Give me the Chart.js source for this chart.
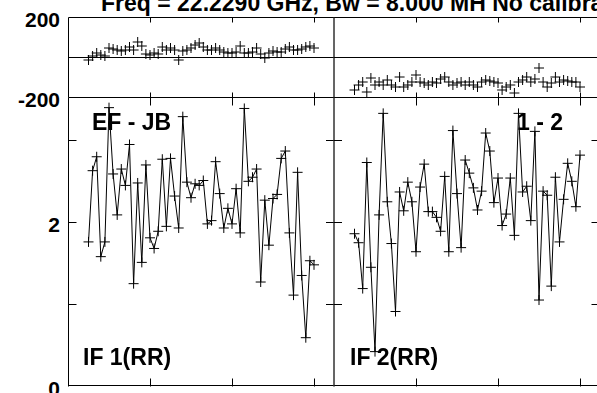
<!DOCTYPE html>
<html>
<head>
<meta charset="utf-8">
<script src="https://cdn.jsdelivr.net/npm/chart.js@4.4.0/dist/chart.umd.min.js"></script>
<style>
  html, body { margin: 0; padding: 0; background: #fff; }
  body {
    width: 597px; height: 393px; position: relative; overflow: hidden;
    font-family: "Liberation Sans", Arial, sans-serif; font-weight: bold; color: #000;
  }
  canvas { position: absolute; }
  .lbl { position: absolute; white-space: nowrap; line-height: 1; }
  .big { font-size: 23px; }
  .ax { font-size: 21px; left: 0; width: 60px; text-align: right; }
</style>
</head>
<body>

<div class="lbl big" style="left:101px; top:-8.5px;">Freq = 22.2290 GHz, Bw = 8.000 MH No calibration</div>
<div class="lbl ax" style="top:9px;">200</div>
<div class="lbl ax" style="top:89px;">-200</div>
<div class="lbl ax" style="top:214px;">2</div>
<div class="lbl ax" style="top:378px;">0</div>

<canvas id="phaseL"></canvas>
<canvas id="phaseR"></canvas>
<canvas id="ampL"></canvas>
<canvas id="ampR"></canvas>

<div class="lbl big" style="left:92px; top:110.5px;">EF - JB</div>
<div class="lbl big" style="left:517px; top:110.5px;">1 - 2</div>
<div class="lbl big" style="left:83px; top:345.5px;">IF 1(RR)</div>
<div class="lbl big" style="left:350px; top:345.5px;">IF 2(RR)</div>

<script>
// ---- data ----
const times = [
  0.25, 0.30, 0.35, 0.40, 0.45, 0.50, 0.55, 0.60, 0.65, 0.70,
  0.75, 0.80, 0.85, 0.90, 0.95, 1.00, 1.05, 1.10, 1.15, 1.20,
  1.25, 1.30, 1.35, 1.40, 1.45, 1.50, 1.55, 1.60, 1.65, 1.70,
  1.75, 1.80, 1.85, 1.90, 1.95, 2.00, 2.05, 2.10, 2.15, 2.20,
  2.25, 2.30, 2.35, 2.40, 2.45, 2.50, 2.55, 2.60, 2.65, 2.70,
  2.75, 2.80, 2.85, 2.90, 2.95, 3.00
];

const phaseIF1 = [
  -15, 5, 20, 10, 5, 45, 40, 35, 30, 35,
  50, 35, 75, 55, 15, 10, 20, 15, 50, 35,
  45, 35, -15, 30, 35, 45, 60, 70, 50, 35,
  35, 45, 35, 25, 20, 20, 25, 55, 20, 20,
  25, 45, 15, -5, 20, 30, 25, 25, 40, 50,
  35, 35, 40, 50, 55, 45
];

const phaseIF2 = [
  -165, -140, -125, -175, -105, -140, -125, -140, -115, -140,
  -150, -100, -150, -140, -125, -90, -125, -130, -140, -125,
  -130, -110, -100, -125, -140, -130, -125, -140, -125, -140,
  -150, -125, -115, -120, -125, -130, -165, -150, -140, -180,
  -125, -115, -100, -125, -110, -55, -125, -150, -130, -100,
  -125, -115, -120, -125, -125, -150
];

const ampIF1 = [
  1.76, 2.63, 2.80, 1.58, 1.76, 3.40, 2.59, 2.09, 2.65, 2.45,
  2.95, 1.25, 2.48, 1.51, 2.70, 1.81, 1.68, 1.89, 2.77, 1.95,
  2.78, 2.32, 1.93, 3.29, 2.49, 2.30, 2.47, 2.45, 2.51, 1.98,
  2.02, 2.74, 2.35, 1.93, 2.17, 1.98, 2.41, 1.87, 3.39, 2.50,
  2.55, 2.65, 1.27, 2.27, 1.72, 2.29, 2.34, 2.78, 2.87, 1.87,
  1.11, 2.61, 1.35, 0.59, 1.53, 1.48
];

const ampIF2 = [
  1.86, 1.75, 1.19, 2.73, 1.45, 0.42, 2.09, 3.33, 2.25, 1.74,
  0.91, 2.37, 2.14, 2.49, 2.25, 1.64, 2.43, 2.71, 2.13, 2.13,
  2.06, 1.89, 2.56, 1.64, 3.12, 2.35, 1.69, 2.76, 2.60, 2.42,
  2.15, 2.38, 3.09, 2.87, 2.24, 2.54, 1.96, 2.10, 2.54, 1.84,
  3.33, 2.37, 2.44, 2.02, 3.11, 1.05, 2.38, 2.33, 1.22, 2.55,
  1.76, 2.28, 2.72, 2.50, 2.19, 2.82
];

const xTicks = [1, 2, 3];
const ampTicks = [1, 2, 3];
const X_MAX = 266 / 82;
const PHASE_RANGE = [-200, 200];
const AMP_RANGE = [0, 3.53];

// ---- layout ----
const PAD = 6;
const COL_L = { left: 68, width: 266 };
const COL_R = { left: 334, width: 266 };
const ROW_PHASE = { top: 17, height: 80 };
const ROW_AMP = { top: 97, height: 289 };

// frame + inward ticks, PGPLOT style
const framePlugin = {
  id: 'frame',
  afterDraw(chart, args, o) {
    const { ctx, chartArea: a, scales } = chart;
    const snap = v => Math.round(v) + 0.5;
    const L = o.softLeft ? a.left : snap(a.left);
    const R = o.softRight ? a.right : snap(a.right) - 1;
    const T = snap(a.top), B = snap(a.bottom) - 1;
    ctx.save();
    ctx.strokeStyle = '#000';
    ctx.lineWidth = 1;
    ctx.beginPath();
    ctx.moveTo(L, T); ctx.lineTo(R, T);
    if (!o.noBottom) { ctx.moveTo(L, B); ctx.lineTo(R, B); }
    ctx.stroke();
    ctx.beginPath();
    ctx.strokeStyle = o.softLeft ? '#333' : '#000';
    ctx.moveTo(L, T); ctx.lineTo(L, B + 1);
    ctx.stroke();
    ctx.beginPath();
    ctx.strokeStyle = o.softRight ? '#333' : '#000';
    ctx.moveTo(R, T); ctx.lineTo(R, B + 1);
    ctx.stroke();

    ctx.strokeStyle = '#000';
    ctx.beginPath();
    (o.xTicks || []).forEach(v => {
      const px = snap(scales.x.getPixelForValue(v));
      ctx.moveTo(px, T); ctx.lineTo(px, T + o.xLen);
      ctx.moveTo(px, B + 1); ctx.lineTo(px, B + 1 - o.xLen);
    });
    (o.yTicks || []).forEach(v => {
      const py = snap(scales.y.getPixelForValue(v));
      ctx.moveTo(L, py); ctx.lineTo(L + o.yLen, py);
      ctx.moveTo(R, py); ctx.lineTo(R - o.yLen, py);
    });
    if (o.zeroLine) {
      const py = snap(scales.y.getPixelForValue(0));
      ctx.moveTo(L, py); ctx.lineTo(R, py);
    }
    ctx.stroke();
    ctx.restore();
  }
};

function makePanel(id, col, row, values, range, showLine, frame) {
  const cv = document.getElementById(id);
  cv.width = col.width + 2 * PAD;
  cv.height = row.height + 2 * PAD;
  cv.style.left = (col.left - PAD) + 'px';
  cv.style.top = (row.top - PAD) + 'px';

  return new Chart(cv.getContext('2d'), {
    type: 'line',
    data: {
      datasets: [{
        data: times.map((t, i) => ({ x: t, y: values[i] })),
        showLine: showLine,
        borderColor: '#000',
        borderWidth: 1,
        tension: 0,
        fill: false,
        pointStyle: 'cross',
        pointRadius: 5,
        pointBorderWidth: 1,
        pointBorderColor: '#000',
        pointBackgroundColor: '#000',
        clip: PAD
      }]
    },
    options: {
      responsive: false,
      animation: false,
      devicePixelRatio: 1,
      layout: { padding: PAD },
      plugins: { legend: { display: false }, tooltip: { enabled: false }, frame: frame },
      scales: {
        x: { type: 'linear', min: 0, max: X_MAX, display: false },
        y: { type: 'linear', min: range[0], max: range[1], display: false }
      }
    },
    plugins: [framePlugin]
  });
}

makePanel('phaseL', COL_L, ROW_PHASE, phaseIF1, PHASE_RANGE, false,
  { xTicks: xTicks, xLen: 5, zeroLine: true, softRight: true, noBottom: true });
makePanel('phaseR', COL_R, ROW_PHASE, phaseIF2, PHASE_RANGE, false,
  { xTicks: xTicks, xLen: 5, zeroLine: true, softLeft: true, noBottom: true });
makePanel('ampL', COL_L, ROW_AMP, ampIF1, AMP_RANGE, true,
  { xTicks: xTicks, xLen: 8, yTicks: ampTicks, yLen: 8, softRight: true });
makePanel('ampR', COL_R, ROW_AMP, ampIF2, AMP_RANGE, true,
  { xTicks: xTicks, xLen: 8, yTicks: ampTicks, yLen: 8, softLeft: true });
</script>
</body>
</html>
